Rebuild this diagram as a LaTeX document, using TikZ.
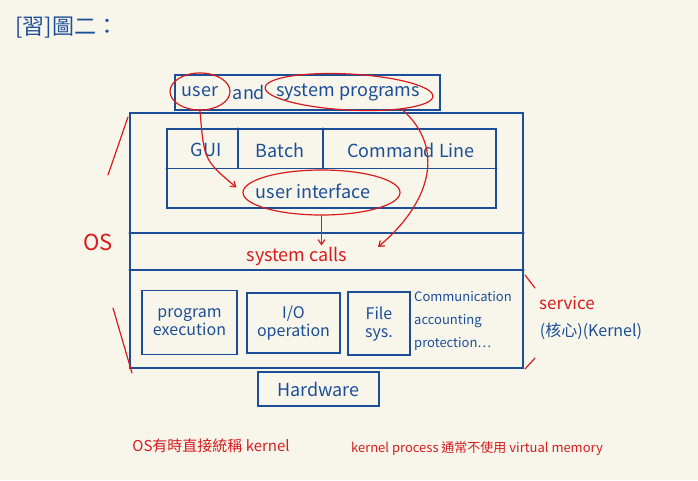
\documentclass[tikz,border=0pt]{standalone}
\usepackage{fontspec}
\setmainfont{Noto Sans CJK TC}
\usepackage{tikz}
\usetikzlibrary{arrows.meta,calc,positioning,shapes.geometric}
\definecolor{InkBlue}{RGB}{28,78,152}
\definecolor{InkRed}{RGB}{214,28,30}
\definecolor{PaperCream}{RGB}{248,246,235}

\begin{document}
\begin{tikzpicture}[x=1pt,y=-1pt,>={Straight Barb[angle=70:6pt]},
    blueline/.style={InkBlue,line width=1.6pt,line join=round,line cap=round},
    redline/.style={InkRed,line width=1.2pt,line cap=round},
    blk/.style={draw=InkBlue,line width=1.6pt,inner sep=0pt},
    bluetxt/.style={InkBlue,font=\fontsize{18}{20}\selectfont,inner sep=1pt},
    boxtxt/.style={InkBlue,font=\fontsize{16}{18}\selectfont,inner sep=1pt},
    smalltxt/.style={InkBlue,font=\fontsize{13}{23}\selectfont,inner sep=1pt},
    redtxt/.style={InkRed,font=\fontsize{18}{20}\selectfont,inner sep=1pt},
    redring/.style={draw=InkRed,line width=1.2pt,ellipse,inner sep=0pt}]
  \fill[PaperCream] (0,0) rectangle (698,480);
  \useasboundingbox (0,0) rectangle (698,480);

  \node[InkBlue,font=\fontsize{22}{24}\selectfont,anchor=west] (title) at (12,28) {[習]圖二：};

  \node[blk,minimum width=265,minimum height=35] (progbox) at (307.5,92.5) {};
  \node[bluetxt] (user) at (200,92) {user};
  \node[bluetxt] (and) at (249,92) {and};
  \node[bluetxt] (sysprog) at (348,92) {system programs};

  \node[blk,minimum width=393,minimum height=255] (osbox) at (326.5,240.5) {};
  \draw[blueline] (osbox.west |- 0,233) -- (osbox.east |- 0,233);
  \draw[blueline] (osbox.west |- 0,270) -- (osbox.east |- 0,270);

  \node[blk,minimum width=329,minimum height=79] (uibox) at (331.5,168.5) {};
  \draw[blueline] (uibox.west) -- (uibox.east);
  \draw[blueline] (uibox.north -| 238,0) -- (uibox.center -| 238,0);
  \draw[blueline] (uibox.north -| 323,0) -- (uibox.center -| 323,0);
  \node[bluetxt] (gui) at (206,150) {GUI};
  \node[bluetxt] (batch) at (280,150) {Batch};
  \node[bluetxt] (cmdline) at (411,150) {Command Line};
  \node[bluetxt] (ui) at (313,191) {user interface};

  \node[redtxt] (syscalls) at (297,256) {system calls};

  \node[blk,minimum width=95,minimum height=64,boxtxt,align=center] (progexec) at (189.5,322.5) {program\\execution};
  \node[blk,minimum width=93,minimum height=60,boxtxt,align=center] (iobox) at (293.5,323) {I/O\\operation};
  \node[blk,minimum width=62,minimum height=63,boxtxt,align=center] (filesys) at (379,323.5) {File\\sys.};
  \node[smalltxt,align=left,anchor=west] (misc) at (413,321) {Communication\\accounting\\protection…};

  \node[blk,minimum width=121,minimum height=34,bluetxt] (hw) at (318.5,389) {Hardware};

  \node[InkRed,font=\fontsize{22}{24}\selectfont] (oslabel) at (98,242) {OS};
  \draw[redline] (128,117) -- (108,175);
  \draw[redline] (113,308) -- (132,373);
  \draw[redline] (525,275) -- (535,288);
  \draw[redline] (525,369) -- (535,358);
  \node[InkRed,font=\fontsize{17}{19}\selectfont] (service) at (567,303) {service};
  \node[InkBlue,font=\fontsize{16}{18}\selectfont] (kernel) at (591,331) {(核心)(Kernel)};

  \node[redring,minimum width=60,minimum height=37] (userring) at (200,91.5) {};
  \node[redring,minimum width=168,minimum height=36,rotate=-3] (sysring) at (349,92) {};
  \node[redring,minimum width=157,minimum height=45] (uiring) at (321.5,192.5) {};
  \coordinate (sctip) at (378,247);
  \draw[redline,->] (userring.south) .. controls (204,160) .. ($(uiring.west)+(-6,-5)$);
  \draw[redline,->] (uiring.south) -- (uiring.south |- syscalls.north);
  \draw[redline,->] (sysring.-15) .. controls (448,150) and (428,205) .. (sctip);

  \node[InkRed,font=\fontsize{15}{17}\selectfont] (note1) at (211,446) {OS有時直接統稱 kernel};
  \node[InkRed,font=\fontsize{13}{15}\selectfont] (note2) at (477,449) {kernel process 通常不使用 virtual memory};
\end{tikzpicture}
\end{document}
